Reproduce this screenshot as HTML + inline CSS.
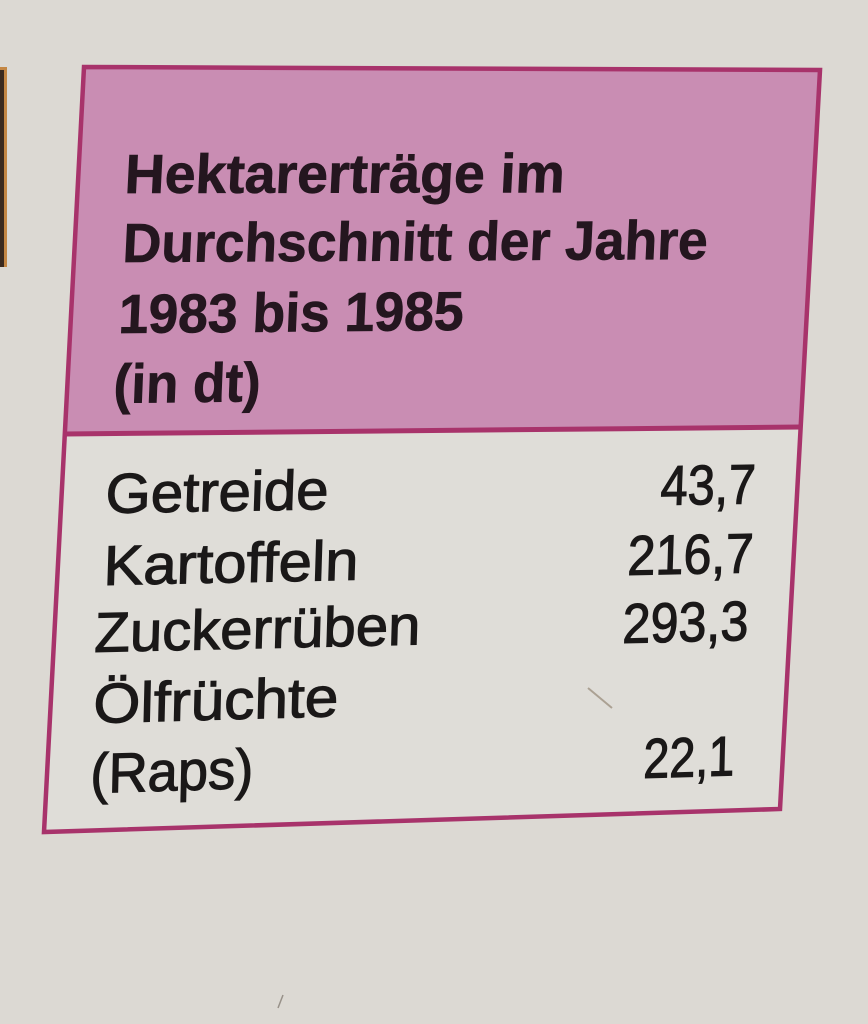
<!DOCTYPE html>
<html>
<head>
<meta charset="utf-8">
<style>
  html, body { margin:0; padding:0; background:#dcd9d3; }
  svg { display:block; }
  .h { font-family:"Liberation Sans", Arial, sans-serif; font-weight:bold; font-size:55px; fill:#24161f; stroke:#24161f; stroke-width:0.7; }
  .b { font-family:"Liberation Sans", Arial, sans-serif; font-weight:normal; font-size:56px; fill:#1a1818; stroke:#1a1818; stroke-width:1.1; }
</style>
</head>
<body>
<svg width="868" height="1024" viewBox="0 0 868 1024" xmlns="http://www.w3.org/2000/svg">
  <!-- paper -->
  <rect x="0" y="0" width="868" height="1024" fill="#dcd9d3"/>

  <!-- left dark strip -->
  <rect x="0" y="67" width="7" height="200" fill="#c48744"/>
  <rect x="0" y="70" width="4" height="197" fill="#3b2a1e"/>

  <!-- body fill -->
  <polygon points="65,434 801,427 780,809 44,832" fill="#dfddd8"/>
  <!-- header fill -->
  <polygon points="84,67 820,70 801,427 65,434" fill="#c98db3"/>

  <!-- separator -->
  <line x1="65" y1="434" x2="801" y2="427" stroke="#a8336b" stroke-width="5"/>
  <!-- outer border -->
  <polygon points="84,67 820,70 780,809 44,832" fill="none" stroke="#a8336b" stroke-width="4.5" stroke-linejoin="miter"/>

  <!-- header text -->
  <g class="h">
    <text transform="translate(124,193) rotate(-0.1) skewX(-3)" textLength="440" lengthAdjust="spacingAndGlyphs">Hektarerträge im</text>
    <text transform="translate(122,262) rotate(-0.3) skewX(-3)" textLength="585" lengthAdjust="spacingAndGlyphs">Durchschnitt der Jahre</text>
    <text transform="translate(118,333) rotate(-0.5) skewX(-3)" textLength="345" lengthAdjust="spacingAndGlyphs">1983 bis 1985</text>
    <text transform="translate(113,403) rotate(-0.7) skewX(-3)" textLength="147" lengthAdjust="spacingAndGlyphs">(in dt)</text>
  </g>

  <!-- body labels -->
  <g class="b">
    <text transform="translate(105,513) rotate(-1.0) skewX(-3)" textLength="223" lengthAdjust="spacingAndGlyphs">Getreide</text>
    <text transform="translate(103,585) rotate(-1.2) skewX(-3)" textLength="255" lengthAdjust="spacingAndGlyphs">Kartoffeln</text>
    <text transform="translate(94,652) rotate(-1.35) skewX(-3)" textLength="326" lengthAdjust="spacingAndGlyphs">Zuckerrüben</text>
    <text transform="translate(93,723) rotate(-1.6) skewX(-3)" textLength="245" lengthAdjust="spacingAndGlyphs">Ölfrüchte</text>
    <text transform="translate(90,793) rotate(-1.75) skewX(-3)" textLength="163" lengthAdjust="spacingAndGlyphs">(Raps)</text>
  </g>

  <!-- body numbers -->
  <g class="b">
    <text transform="translate(660,505) rotate(-1.0) skewX(-3)" textLength="95" lengthAdjust="spacingAndGlyphs">43,7</text>
    <text transform="translate(627,575) rotate(-1.2) skewX(-3)" textLength="126" lengthAdjust="spacingAndGlyphs">216,7</text>
    <text transform="translate(622,643) rotate(-1.35) skewX(-3)" textLength="126" lengthAdjust="spacingAndGlyphs">293,3</text>
    <text transform="translate(643,778) rotate(-1.75) skewX(-3)" textLength="91" lengthAdjust="spacingAndGlyphs">22,1</text>
  </g>

  <!-- small marks on paper -->
  <line x1="588" y1="688" x2="612" y2="708" stroke="#8a7a66" stroke-width="2" opacity="0.6"/>
  <line x1="283" y1="995" x2="278" y2="1008" stroke="#6b6258" stroke-width="1.5" opacity="0.6"/>
</svg>
</body>
</html>
